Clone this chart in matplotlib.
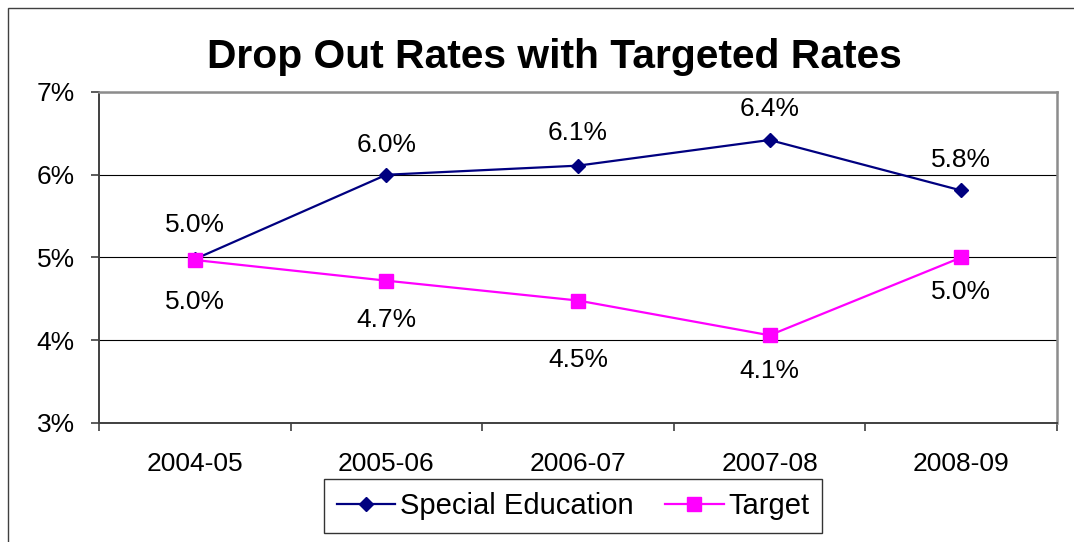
import matplotlib
matplotlib.use("Agg")
import matplotlib.pyplot as plt
from matplotlib.patches import Rectangle
from matplotlib.ticker import FuncFormatter

years = ["2004-05", "2005-06", "2006-07", "2007-08", "2008-09"]
special_ed = [4.98, 6.0, 6.11, 6.42, 5.81]
target = [4.97, 4.72, 4.48, 4.06, 5.0]

# label offsets in points (some were nudged by hand in the original)
special_off = [24.5, 21.6, 23.8, 22.3, 22.3]
target_off = [-30, -28, -43, -26, -25]

plt.rcParams['font.family'] = ['Liberation Sans', 'DejaVu Sans']

fig = plt.figure(figsize=(10.74, 5.42), dpi=100)
ax = fig.add_axes([99/1074, 1-423/542, (1057-99)/1074, (423-92)/542])

x = list(range(len(years)))
ax.plot(x, special_ed, color="#000080", lw=1.6, marker="D", ms=7.5,
        label="Special Education", clip_on=False, zorder=3)
ax.plot(x, target, color="#FF00FF", lw=1.6, marker="s", ms=10,
        label="Target", clip_on=False, zorder=3)

for i, v in enumerate(special_ed):
    ax.annotate(f"{v:.1f}%", (i, v), xytext=(0, special_off[i]), textcoords="offset points",
                ha="center", va="center", fontsize=19)
for i, v in enumerate(target):
    ax.annotate(f"{v:.1f}%", (i, v), xytext=(0, target_off[i]), textcoords="offset points",
                ha="center", va="center", fontsize=19)

ax.set_xlim(-0.5, len(years) - 0.5)
ax.set_ylim(3, 7)
ax.set_yticks([3, 4, 5, 6, 7])
ax.yaxis.set_major_formatter(FuncFormatter(lambda v, p: f"{v:.0f}%"))
ax.grid(axis="y", color="black", lw=0.8)
ax.set_axisbelow(True)

# category labels at centres, tick marks at the boundaries
ax.set_xticks(x)
ax.set_xticklabels(years)
ax.set_xticks([i - 0.5 for i in range(len(years) + 1)], minor=True)
ax.tick_params(axis="x", which="major", length=0, pad=21, labelsize=19)
ax.tick_params(axis="x", which="minor", length=5.5, width=1.2, color="#404040")
ax.tick_params(axis="y", length=5.5, width=1.2, color="#404040", pad=12, labelsize=19)

for s in ["left", "bottom"]:
    ax.spines[s].set_color("#404040")
    ax.spines[s].set_linewidth(1.4)
for s in ["top", "right"]:
    ax.spines[s].set_color("#8c8c8c")
    ax.spines[s].set_linewidth(1.8)

fig.text(554/1074, 1-57/542, "Drop Out Rates with Targeted Rates",
         ha="center", va="center", fontsize=29.3, fontweight="bold")

leg = fig.legend(loc="center", bbox_to_anchor=(573/1074, 1-506/542), ncol=2,
                 fontsize=21, frameon=True, fancybox=False, edgecolor="black",
                 handlelength=2.0, handletextpad=0.15, columnspacing=1.1,
                 borderpad=0.45, borderaxespad=0.0)
leg.get_frame().set_linewidth(1.0)

fig.patches.append(Rectangle((8/1074, -0.1), 1.1, 1-8/542+0.1, transform=fig.transFigure,
                             fill=False, edgecolor="#404040", lw=1.0))

fig.savefig("out.png", dpi=100)
